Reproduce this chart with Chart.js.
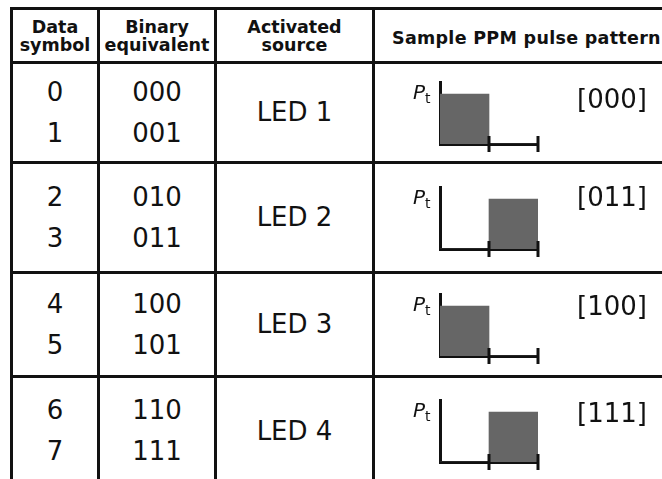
<!DOCTYPE html>
<html>
<head>
<meta charset="utf-8">
<script src="https://cdn.jsdelivr.net/npm/chart.js@4.4.1/dist/chart.umd.min.js"></script>
<style>
html,body{margin:0;padding:0;background:#fff;}
body{width:662px;height:479px;overflow:hidden;position:relative;}
table{position:absolute;left:10px;top:7px;width:685px;border-collapse:separate;border-spacing:0;table-layout:fixed;
  border-left:3px solid #111;border-top:3px solid #111;font-family:"DejaVu Sans",Verdana,sans-serif;color:#111;}
td,th{border-right:3px solid #111;border-bottom:3px solid #111;padding:0;text-align:center;vertical-align:middle;overflow:hidden;}
th{font-weight:bold;font-size:17.5px;line-height:18px;white-space:pre-line;height:51px;}
th.wide{text-align:left;padding-left:17px;padding-top:5px;height:46px;white-space:nowrap;letter-spacing:0.3px;}
td{font-size:26px;line-height:41px;}
.box{position:relative;width:317px;}
.chartbox{position:absolute;}
.pt{position:absolute;font-size:20px;line-height:20px;white-space:nowrap;}
.pt i{font-style:italic;}
.pt sub{font-size:14px;vertical-align:-4px;line-height:0;}
.code{position:absolute;font-size:26px;line-height:26px;white-space:nowrap;}
</style>
</head>
<body>
<table id="tbl">
  <colgroup><col style="width:87px"><col style="width:117px"><col style="width:158px"><col style="width:320px"></colgroup>
  <thead><tr id="head"></tr></thead>
  <tbody id="rows"></tbody>
</table>
<script>
// table text
const headers = ['Data\nsymbol', 'Binary\nequivalent', 'Activated\nsource', 'Sample PPM pulse pattern'];
const dataSymbols = ['0', '1', '2', '3', '4', '5', '6', '7'];
const binaryCodes = ['000', '001', '010', '011', '100', '101', '110', '111'];
const sources = ['LED 1', 'LED 2', 'LED 3', 'LED 4'];
const sampleCodes = ['[000]', '[011]', '[100]', '[111]'];

// pulse pattern: two time slots, pulse in one of them
const slotLabels = ['slot 1', 'slot 2'];
const pulseLevels = [[1, 0], [0, 1], [1, 0], [0, 1]];

// layout only
const rowHeights = [97, 107, 101, 106];
const codeOffsets = [4, -3, -1, 0];

const head = document.getElementById('head');
headers.forEach((h, i) => {
  const th = document.createElement('th');
  th.textContent = h;
  if (i === 3) th.className = 'wide';
  head.appendChild(th);
});

// ticks crossing the time axis at the slot ends
const slotTicks = {
  id: 'slotTicks',
  afterDatasetsDraw(chart) {
    const x = chart.scales.x, c = chart.ctx, y0 = chart.chartArea.bottom;
    c.save();
    c.strokeStyle = '#111';
    c.lineWidth = 3;
    for (let i = 0; i < slotLabels.length; i++) {
      const px = x.getPixelForValue(i + 0.5);
      c.beginPath();
      c.moveTo(px, y0 - 8);
      c.lineTo(px, y0 + 8);
      c.stroke();
    }
    c.restore();
  }
};

const tbody = document.getElementById('rows');
sources.forEach((src, r) => {
  const tr = document.createElement('tr');
  const h = rowHeights[r];
  const td1 = document.createElement('td');
  td1.innerHTML = dataSymbols[2 * r] + '<br>' + dataSymbols[2 * r + 1];
  const td2 = document.createElement('td');
  td2.innerHTML = binaryCodes[2 * r] + '<br>' + binaryCodes[2 * r + 1];
  const td3 = document.createElement('td');
  td3.textContent = src;
  const td4 = document.createElement('td');
  const box = document.createElement('div');
  box.className = 'box';
  box.style.height = h + 'px';

  const axisTop = Math.round((h - 62) / 2);

  const cb = document.createElement('div');
  cb.className = 'chartbox';
  cb.style.left = '45px';
  cb.style.top = (axisTop - 10) + 'px';
  const cv = document.createElement('canvas');
  cv.width = 140; cv.height = 82;
  cv.style.width = '140px'; cv.style.height = '82px';
  cb.appendChild(cv);
  box.appendChild(cb);

  const pt = document.createElement('span');
  pt.className = 'pt';
  pt.style.left = '38px';
  pt.style.top = axisTop + 'px';
  pt.innerHTML = '<i>P</i><sub>t</sub>';
  box.appendChild(pt);

  const code = document.createElement('span');
  code.className = 'code';
  code.style.left = '202px';
  code.style.top = (axisTop + codeOffsets[r]) + 'px';
  code.textContent = sampleCodes[r];
  box.appendChild(code);

  td4.appendChild(box);
  [td1, td2, td3, td4].forEach(t => tr.appendChild(t));
  tbody.appendChild(tr);

  new Chart(cv, {
    type: 'bar',
    data: {
      labels: slotLabels,
      datasets: [{
        data: pulseLevels[r],
        backgroundColor: '#666666',
        borderWidth: 0,
        barPercentage: 1,
        categoryPercentage: 1
      }]
    },
    options: {
      responsive: false,
      animation: false,
      layout: { padding: { left: 20, right: 22, top: 10, bottom: 10 } },
      plugins: { legend: { display: false }, tooltip: { enabled: false } },
      scales: {
        x: {
          grid: { display: false, drawTicks: false },
          ticks: { display: false },
          border: { display: true, color: '#111', width: 3 }
        },
        y: {
          min: 0,
          max: 1.24,
          grid: { display: false, drawTicks: false },
          ticks: { display: false },
          border: { display: true, color: '#111', width: 3 }
        }
      }
    },
    plugins: [slotTicks]
  });
});
</script>
</body>
</html>
